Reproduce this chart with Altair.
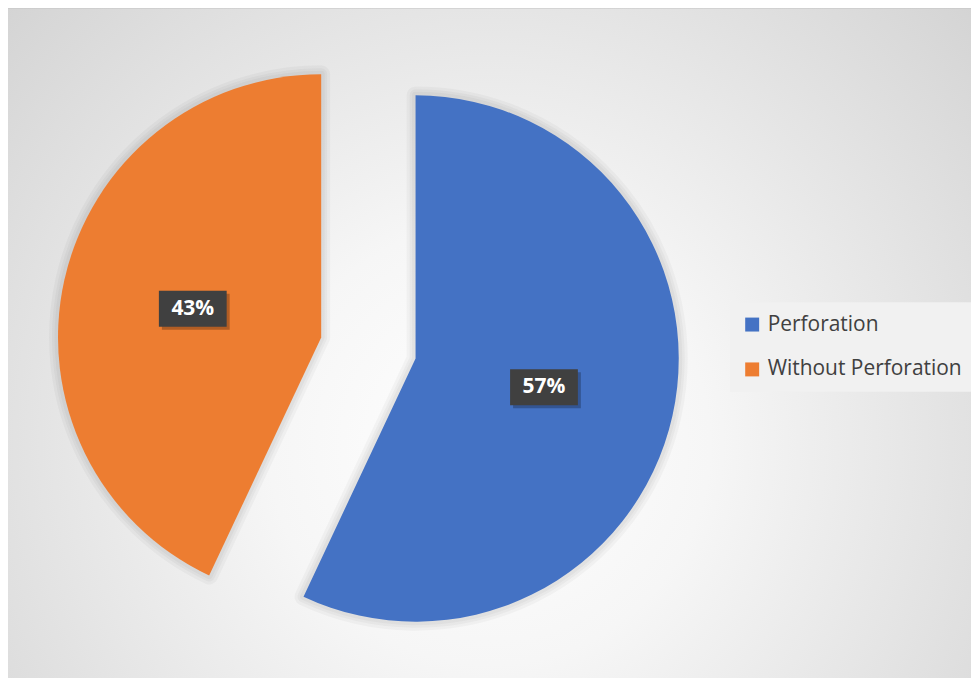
import altair as alt
import pandas as pd

# ---- data ----
categories = ["Perforation", "Without Perforation"]
values = [57, 43]
order = [0, 1]
colors = ["#4472C4", "#ED7D31"]

# ---- layout (pixels inside the chart) ----
W, H = 966, 670
CX, CY = 361.5, 340
R = 264
EXPLODE = 48.5
LR = 132
BOX_W, BOX_H = 68, 36

df = pd.DataFrame({"category": categories, "value": values, "order": order})

base = (
    alt.Chart(df)
    .transform_joinaggregate(total="sum(value)")
    .transform_window(cum="sum(value)", sort=[alt.SortField("order")], frame=[None, 0])
    .transform_calculate(t0="(datum.cum - datum.value) / datum.total * 2 * PI")
    .transform_calculate(t1="datum.cum / datum.total * 2 * PI")
    .transform_calculate(mid="(datum.t0 + datum.t1) / 2")
    .transform_calculate(cx=f"{CX} + {EXPLODE} * sin(datum.mid)")
    .transform_calculate(cy=f"{CY} - {EXPLODE} * cos(datum.mid)")
    .transform_calculate(lx=f"datum.cx + {LR} * sin(datum.mid)")
    .transform_calculate(ly=f"datum.cy - {LR} * cos(datum.mid)")
    .transform_calculate(bx0=f"datum.lx - {BOX_W/2}")
    .transform_calculate(bx1=f"datum.lx + {BOX_W/2}")
    .transform_calculate(by0=f"datum.ly - {BOX_H/2}")
    .transform_calculate(by1=f"datum.ly + {BOX_H/2}")
    .transform_calculate(pct="format(datum.value / datum.total, '.0%')")
)

xs = alt.Scale(domain=[0, W], nice=False, zero=False)
ys = alt.Scale(domain=[H, 0], nice=False, zero=False)

bg_grad = {
    "gradient": "radial",
    "x1": 0.5, "y1": 0.6, "r1": 0,
    "x2": 0.5, "y2": 0.6, "r2": 0.9,
    "stops": [
        {"offset": 0, "color": "#ffffff"},
        {"offset": 0.25, "color": "#f6f6f6"},
        {"offset": 1, "color": "#c2c2c2"},
    ],
}
bg_df = pd.DataFrame({"x0": [-8], "x1": [W + 8], "y0": [-1], "y1": [H + 8]})
background = alt.Chart(bg_df).mark_rect(fill=bg_grad, stroke="#c4c4c4", strokeWidth=1).encode(
    x=alt.X("x0:Q", scale=xs, axis=None), x2="x1:Q",
    y=alt.Y("y0:Q", scale=ys, axis=None), y2="y1:Q",
)

pos = dict(
    x=alt.X("cx:Q", scale=xs, axis=None),
    y=alt.Y("cy:Q", scale=ys, axis=None),
    theta=alt.Theta("t0:Q", scale=None),
    theta2=alt.Theta2("t1:Q"),
)

shadows = [
    base.mark_arc(radius=R, fillOpacity=0, stroke="#000000", strokeOpacity=0.03,
                  strokeWidth=w, strokeJoin="round").encode(**pos)
    for w in (18, 12, 7)
]

arcs = base.mark_arc(radius=R, strokeWidth=0).encode(
    **pos,
    color=alt.Color(
        "category:N",
        scale=alt.Scale(domain=categories, range=colors),
        sort=categories,
        legend=alt.Legend(
            title=None,
            orient="none",
            legendX=724,
            legendY=294,
            symbolType="square",
            symbolSize=196,
            symbolStrokeWidth=0,
            labelFont="Open Sans",
            labelFontSize=21,
            labelColor="#404040",
            rowPadding=23,
            padding=12,
            labelOffset=5,
            fillColor="#f1f1f1",
            labelLimit=400,
        ),
    ),
)

box_shadow = base.mark_rect(color="#000000", opacity=0.25, xOffset=3, x2Offset=3,
                            yOffset=3, y2Offset=3).encode(
    x=alt.X("bx0:Q", scale=xs, axis=None), x2="bx1:Q",
    y=alt.Y("by0:Q", scale=ys, axis=None), y2="by1:Q",
)
boxes = base.mark_rect(color="#404040").encode(
    x=alt.X("bx0:Q", scale=xs, axis=None), x2="bx1:Q",
    y=alt.Y("by0:Q", scale=ys, axis=None), y2="by1:Q",
)
labels = base.mark_text(font="Open Sans", fontSize=21, fontWeight="bold",
                        color="#ffffff", baseline="middle", align="center").encode(
    x=alt.X("lx:Q", scale=xs, axis=None),
    y=alt.Y("ly:Q", scale=ys, axis=None),
    text="pct:N",
)

chart = (
    alt.layer(background, *shadows, arcs, box_shadow, boxes, labels)
    .properties(width=W, height=H, autosize="none", padding=0)
    .configure_view(stroke=None)
)

chart.save("out.html", embed_options={"renderer": "svg", "actions": False})
